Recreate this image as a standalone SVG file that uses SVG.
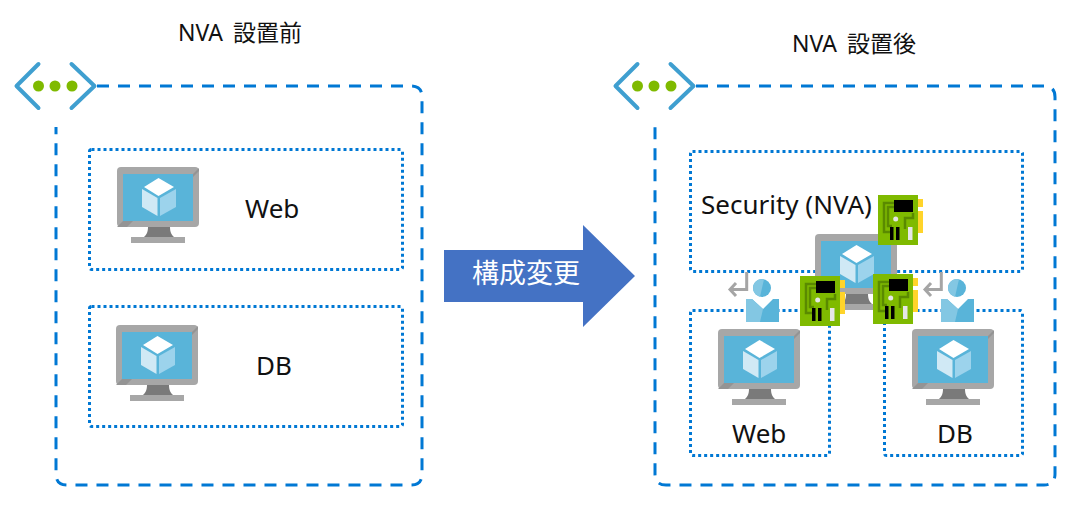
<svg xmlns="http://www.w3.org/2000/svg" width="1077" height="510" viewBox="0 0 1077 510">
<style>
text{font-family:"Noto Sans","Noto Sans CJK JP",sans-serif;fill:#111;font-size:26px}
.t{font-size:23px;word-spacing:4px}
.outer{fill:none;stroke:#0078d4;stroke-width:3;stroke-dasharray:12 9}
.inner{fill:none;stroke:#0078d4;stroke-width:3;stroke-dasharray:3 3}
.ret{fill:none;stroke:#a5a5a5;stroke-width:3}
</style>
<defs>
<g id="vm">
<rect x="0" y="0" width="82" height="60" rx="4" fill="#a7a7a7"/>
<path d="M6 54L0 60H10L16 54Z" fill="#949494"/>
<path d="M76 7L82 1V4L76 10Z" fill="#949494"/>
<rect x="6" y="7" width="70" height="47" fill="#59b4d9"/>
<path d="M41.500 11L57 20L41.500 29L27 20Z" fill="#fff"/>
<path d="M25 22L40.500 31V49L25 40Z" fill="#d0e9f5"/>
<path d="M43 31L59 22V40L43 49Z" fill="#9cd3ec"/>
<path d="M31 60H53C53 66 55 68 57 70H27C29 68 31 66 31 60Z" fill="#7a7a7a"/>
<rect x="14" y="70" width="54" height="6" fill="#a7a7a7"/>
</g>
<g id="card">
<rect x="40" y="4" width="5" height="8" fill="#ffd42a"/>
<rect x="40" y="16" width="5" height="22" fill="#ffd42a"/>
<rect width="40" height="50" fill="#7fba00"/>
<path d="M16 8H6V37H12M16 12H10V31H14M35 18V23H27V34" fill="none" stroke="#5a8a00" stroke-width="2.500"/>
<rect x="16" y="5" width="19" height="12" fill="#000"/>
<circle cx="17.700" cy="24" r="2.500" fill="#e6e6e6"/>
<rect x="12" y="32" width="3.500" height="13" fill="#000"/>
<rect x="18" y="32" width="3.500" height="13" fill="#000"/>
<rect x="30" y="32" width="4.500" height="13" fill="#e6e6e6"/>
</g>
<g id="vnet">
<path d="M23 1L1 23L23 45M56 1L79 23L56 45" fill="none" stroke="#3f9fd0" stroke-width="4" stroke-linecap="round" stroke-linejoin="round"/>
<circle cx="23" cy="23" r="5.500" fill="#7fba00"/>
<circle cx="39.500" cy="23" r="5.500" fill="#7fba00"/>
<circle cx="56.500" cy="23" r="5.500" fill="#7fba00"/>
</g>
<g id="user">
<circle cx="16" cy="-11" r="9" fill="#59b4d9"/>
<path d="M18 -19.800A9 9 0 0 0 14 -2.200Z" fill="#83c7e3"/>
<path d="M0 0H6L17 10L27 0H33V23H0Z" fill="#59b4d9"/>
<path d="M0 0H6L17 10L14 23H0Z" fill="#83c7e3"/>
</g>
</defs>
<g id="connectors"></g>
<g id="title-before"><text class="t" x="178" y="41">NVA 設置前</text></g>
<g id="title-after"><text class="t" x="792" y="52">NVA 設置後</text></g>
<g id="vnet-before">
<path class="outer" d="M97 86H411Q422 86 422 97V474Q422 485 411 485H67Q56 485 56 474V127"/>
<use href="#vnet" x="15.500" y="63"/>
</g>
<g id="vnet-after">
<path class="outer" d="M696 86H1044Q1055 86 1055 97V474Q1055 485 1044 485H666Q655 485 655 474V127"/>
<use href="#vnet" x="614.500" y="63"/>
</g>
<g id="subnet-web"><rect class="inner" x="89.500" y="149.500" width="313" height="120" rx="2"/><use href="#vm" x="117" y="167"/><text x="245" y="218">Web</text></g>
<g id="subnet-db"><rect class="inner" x="89.500" y="306.500" width="313" height="120" rx="2"/><use href="#vm" x="116" y="325"/><text x="256" y="375">DB</text></g>
<g id="arrow"><path d="M444 250H583V225L635 276L583 327V302H444Z" fill="#4472c4"/><text x="472" y="283" style="fill:#fff;font-size:27px">構成変更</text></g>
<g id="subnet-security"><rect class="inner" x="690.500" y="151.500" width="332" height="120" rx="2"/><text x="701" y="214">Security (NVA)</text></g>
<g id="subnet-web2"><rect class="inner" x="690.500" y="310.500" width="139" height="145" rx="2"/><use href="#vm" x="718" y="329"/><text x="732" y="443">Web</text></g>
<g id="subnet-db2"><rect class="inner" x="884.500" y="310.500" width="138" height="145" rx="2"/><use href="#vm" x="912" y="329"/><text x="937" y="443">DB</text></g>
<g id="nva-vm"><use href="#vm" x="815" y="234"/></g>
<g id="user-left"><path class="ret" d="M746.700 272V289.500H731M736 283L730 289.500L736 296"/><use href="#user" x="746" y="299"/></g>
<g id="user-right"><path class="ret" d="M941.300 272V289.500H926M931 283L925 289.500L931 296"/><use href="#user" x="941" y="299"/></g>
<g id="nic-1"><use href="#card" x="878" y="195"/></g>
<g id="nic-2"><use href="#card" x="800" y="276"/></g>
<g id="nic-3"><use href="#card" x="873" y="274"/></g>
</svg>
